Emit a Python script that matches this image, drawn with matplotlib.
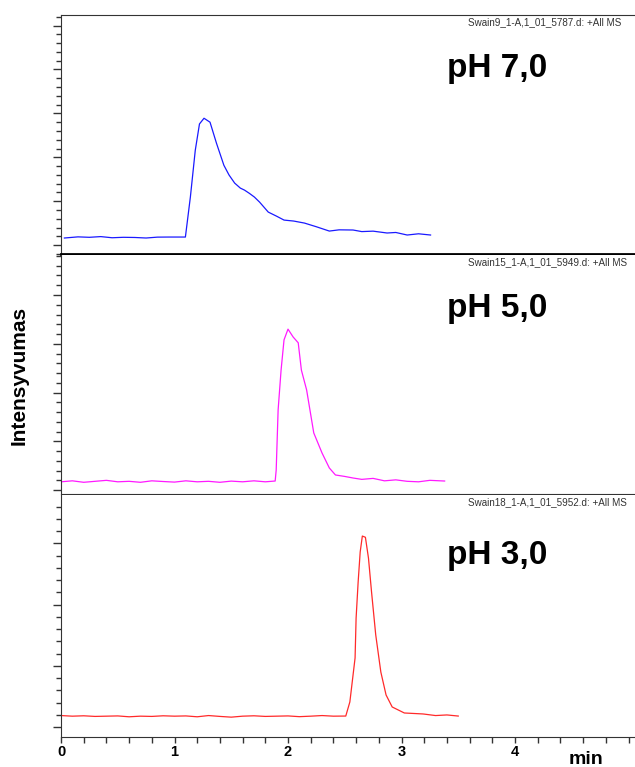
import matplotlib
matplotlib.use('Agg')
import matplotlib.pyplot as plt
from matplotlib.ticker import MultipleLocator, FixedLocator

plt.rcParams['font.family'] = ['Liberation Sans', 'DejaVu Sans']

# retention time (min) and intensity (arbitrary units)
blue_t = [0.03, 0.15, 0.25, 0.35, 0.45, 0.55, 0.65, 0.75, 0.85, 0.95, 1.05, 1.096,
          1.14, 1.183, 1.22, 1.26, 1.313, 1.37, 1.435, 1.48, 1.53, 1.58, 1.617, 1.66,
          1.704, 1.75, 1.826, 1.9, 1.965, 2.05, 2.145, 2.25, 2.364, 2.45, 2.573, 2.65,
          2.75, 2.873, 2.95, 3.05, 3.15, 3.256]
blue_y = [0.82, 0.95, 0.9, 0.98, 0.85, 0.9, 0.88, 0.82, 0.92, 0.93, 0.93, 0.93,
          5.5, 10.8, 13.8, 14.45, 14.0, 11.6, 9.1, 8.0, 7.07, 6.5, 6.27, 5.9,
          5.48, 4.9, 3.77, 3.3, 2.86, 2.75, 2.52, 2.1, 1.61, 1.75, 1.73, 1.55,
          1.6, 1.39, 1.45, 1.16, 1.3, 1.16]

magenta_t = [0.0, 0.1, 0.2, 0.3, 0.4, 0.5, 0.6, 0.7, 0.8, 0.9, 1.0, 1.1, 1.2, 1.3,
             1.4, 1.5, 1.6, 1.7, 1.8, 1.887, 1.896, 1.913, 1.939, 1.965, 2.0, 2.045,
             2.09, 2.118, 2.164, 2.227, 2.30, 2.364, 2.418, 2.5, 2.573, 2.65, 2.75,
             2.85, 2.95, 3.05, 3.15, 3.25, 3.38]
magenta_y = [0.85, 0.95, 0.8, 0.9, 1.0, 0.85, 0.9, 0.8, 0.95, 0.88, 0.82, 0.95, 0.85,
             0.9, 0.8, 0.92, 0.85, 0.95, 0.85, 0.93, 2.06, 8.22, 12.3, 15.4, 16.5, 15.7,
             15.1, 12.3, 10.27, 5.86, 3.8, 2.27, 1.55, 1.4, 1.24, 1.1, 1.2,
             0.95, 1.05, 0.9, 0.85, 1.0, 0.93]

red_t = [0.0, 0.1, 0.2, 0.3, 0.4, 0.5, 0.6, 0.7, 0.8, 0.9, 1.0, 1.1, 1.2, 1.3, 1.4,
         1.5, 1.6, 1.7, 1.8, 1.9, 2.0, 2.1, 2.2, 2.3, 2.4, 2.509, 2.545, 2.591, 2.60,
         2.618, 2.636, 2.655, 2.682, 2.709, 2.736, 2.773, 2.818, 2.864, 2.918, 3.025,
         3.19, 3.3, 3.4, 3.5]
red_y = [0.95, 0.9, 0.93, 0.88, 0.9, 0.92, 0.85, 0.9, 0.88, 0.93, 0.9, 0.92, 0.85,
         0.95, 0.88, 0.82, 0.9, 0.93, 0.88, 0.9, 0.92, 0.86, 0.9, 0.95, 0.9, 0.91,
         2.06, 5.65, 8.9, 11.85, 14.3, 15.6, 15.5, 13.8, 11.04, 7.53, 4.5, 2.63, 1.65,
         1.16, 1.08, 0.95, 1.0, 0.91]

panel_labels = ['pH 7,0', 'pH 5,0', 'pH 3,0']
file_labels = ['Swain9_1-A,1_01_5787.d: +All MS',
               'Swain15_1-A,1_01_5949.d: +All MS',
               'Swain18_1-A,1_01_5952.d: +All MS']
x_ticks = [0, 1, 2, 3, 4]
colors = ['#1a1aff', '#ff1aff', '#ff2a2a']
traces = [(blue_t, blue_y), (magenta_t, magenta_y), (red_t, red_y)]
ylims = [(-1, 26.2), (-0.4, 24.1), (-0.8, 18.95)]

W, H = 635, 767
fig = plt.figure(figsize=(W / 100, H / 100), dpi=100)

# panel rows in pixel coords (top, bottom)
rows = [(15, 254), (255, 494), (495, 737)]
label_y = [0.778, 0.778, 0.752]
left = 61
width_px = 603
xmax = width_px / 113.5

axes = []
for i, (top, bot) in enumerate(rows):
    ax = fig.add_axes([left / W, (H - bot) / H, width_px / W, (bot - top) / H])
    t, y = traces[i]
    ax.plot(t, y, color=colors[i], lw=0.9)
    ax.set_xlim(0, xmax)
    ax.set_ylim(*ylims[i])
    ax.yaxis.set_major_locator(MultipleLocator(5))
    ax.yaxis.set_minor_locator(MultipleLocator(1))
    ax.tick_params(axis='y', which='major', direction='out', length=5.5, width=1,
                   labelleft=False, color='#333333')
    ax.tick_params(axis='y', which='minor', direction='out', length=3.5, width=1,
                   color='#333333')
    ax.spines['right'].set_visible(False)
    for s in ax.spines.values():
        s.set_color('#333333')
    if i < 2:
        ax.tick_params(axis='x', which='both', bottom=False, labelbottom=False)
    if i == 0:
        ax.spines['bottom'].set_linewidth(2)
        ax.spines['bottom'].set_color('black')
    else:
        ax.spines['top'].set_visible(False)
    ax.text((468 - left) / width_px, 0.993, file_labels[i],
            transform=ax.transAxes, ha='left', va='top', fontsize=7.1, color='#333333')
    ax.text((447 - left) / width_px, label_y[i], panel_labels[i],
            transform=ax.transAxes, ha='left', va='center', fontsize=24,
            fontweight='bold')
    axes.append(ax)

bx = axes[2]
bx.xaxis.set_major_locator(FixedLocator(x_ticks))
bx.xaxis.set_minor_locator(MultipleLocator(0.2))
bx.tick_params(axis='x', which='both', direction='out', length=4, width=1,
               color='#333333', labelsize=10.5, pad=2)
for lab in bx.get_xticklabels():
    lab.set_fontweight('bold')

fig.text(19 / W, 1 - 375 / H, 'Intensyvumas', rotation=90, ha='center', va='center',
         fontsize=15, fontweight='bold')
fig.text(586 / W, 1 - 759 / H, 'min', ha='center', va='center', fontsize=14,
         fontweight='bold')

fig.savefig('out.png', dpi=100)
